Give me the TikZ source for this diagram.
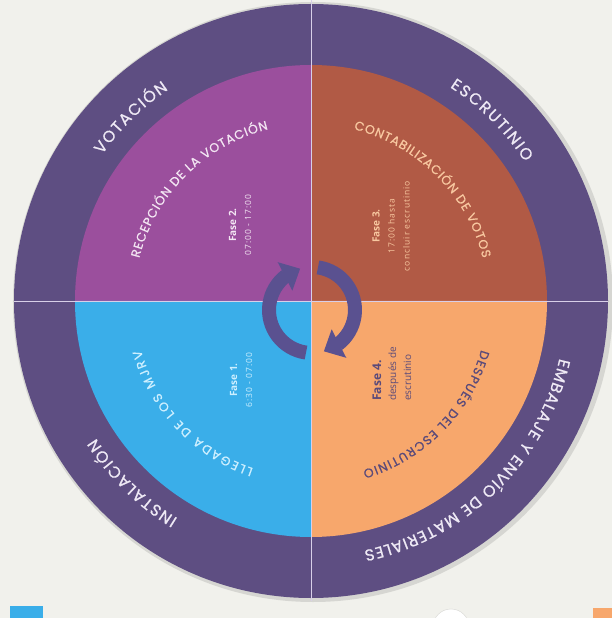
\documentclass[tikz,border=0pt]{standalone}
\usepackage{fontspec}
\setmainfont{Open Sans}
\newfontfamily\capsFont{Poppins}[FakeBold=0.8]
\newfontfamily\faseFont{Open Sans}
\usetikzlibrary{arrows.meta,bending,decorations.text}
\definecolor{pageColor}{HTML}{F1F1EC}
\definecolor{shadowColor}{HTML}{D6D6D2}
\definecolor{ringColor}{HTML}{5E4E82}
\definecolor{ringText}{HTML}{EEE9F5}
\definecolor{lineColor}{HTML}{D8CFE8}
\definecolor{cycleColor}{HTML}{5A5190}
\definecolor{votaColor}{HTML}{9B4F9D}
\definecolor{votaText}{HTML}{F3E6F3}
\definecolor{escruColor}{HTML}{B15A45}
\definecolor{escruText}{HTML}{F8C8A0}
\definecolor{instaColor}{HTML}{3AAEE9}
\definecolor{instaText}{HTML}{CDEFFF}
\definecolor{embaColor}{HTML}{F7A76C}
\definecolor{embaText}{HTML}{5A4A7A}
\tikzset{
  ring label/.style={decorate,decoration={text along path,text align={fit to path},
      text={|\capsFont\fontsize{16}{16}\selectfont\color{ringText}|#1}}},
  phase label/.style 2 args={decorate,decoration={text along path,text align={fit to path},
      text={|\capsFont\fontsize{12.5}{12.5}\selectfont\color{#1}|#2}}},
  fase/.style={rotate=90,align=center,inner sep=0pt,
      font=\faseFont\fontsize{10}{15}\selectfont},
  cycle arrow/.style={cycleColor,line width=14pt,-{Triangle[length=17pt,width=31pt]}}
}
\newcommand{\timeFont}{\addfontfeatures{LetterSpace=12}\fontsize{8.5}{15}\selectfont}

\begin{document}
\begin{tikzpicture}[x=1pt,y=1pt]
  \useasboundingbox (-311,-317) rectangle (301,301);
  \fill[pageColor] (-311,-317) rectangle (301,301);
  \fill[instaColor] (-301,-305) rectangle (-268,-317);
  \fill[embaColor] (282,-307) rectangle (301,-317);
  \draw[shadowColor,fill=white] (140,-326) circle[radius=18pt];

  % disc
  \fill[shadowColor] (2,-1) circle[radius=300pt];
  \fill[ringColor] (0,0) circle[radius=297pt];

  \fill[votaColor] (0,0) -- (90:236pt) arc[start angle=90,end angle=180,radius=236pt] -- cycle;
  \fill[escruColor] (0,0) -- (0:236pt) arc[start angle=0,end angle=90,radius=236pt] -- cycle;
  \fill[instaColor] (0,0) -- (180:236pt) arc[start angle=180,end angle=270,radius=236pt] -- cycle;
  \fill[embaColor] (0,0) -- (270:236pt) arc[start angle=270,end angle=360,radius=236pt] -- cycle;

  \draw[lineColor,line width=0.8pt] (0,301) -- (0,-300);
  \draw[lineColor,line width=0.8pt] (-297,0) -- (297,0);

  % outer ring
  \path[ring label={VOTACIÓN}] (145:255pt) arc[start angle=145,end angle=124,radius=255pt];
  \path[ring label={ESCRUTINIO}] (57:255pt) arc[start angle=57,end angle=33,radius=255pt];
  \path[ring label={INSTALACIÓN}] (238.5:255pt) arc[start angle=238.5,end angle=212.5,radius=255pt];
  \path[ring label={EMBALAJE Y ENVÍO DE MATERIALES}] (-13:255pt) arc[start angle=-13,end angle=-78,radius=255pt];

  % phases
  \path[phase label={votaText}{RECEPCIÓN DE LA VOTACIÓN}] (166:177pt) arc[start angle=166,end angle=104,radius=177pt];
  \path[phase label={escruText}{CONTABILIZACIÓN DE VOTOS}] (76:177pt) arc[start angle=76,end angle=14,radius=177pt];
  \path[phase label={instaText}{LLEGADA DE LOS MJRV}] (251:177pt) arc[start angle=251,end angle=196,radius=177pt];
  \path[phase label={embaText}{DESPUÉS DEL ESCRUTINIO}] (-16:177pt) arc[start angle=-16,end angle=-73,radius=177pt];

  \node[fase,text=votaText] (fase2) at (-71,76) {{\bfseries Fase 2.}\\{\timeFont 07:00 - 17:00}};
  \node[fase,text=escruText] (fase3) at (80,75) {{\bfseries Fase 3.}\\{\timeFont 17:00 hasta}\\{\timeFont concluir escrutinio}};
  \node[fase,text=instaText] (fase1) at (-70,-79) {{\bfseries Fase 1.}\\{\timeFont 6:30 - 07:00}};
  \node[fase,text=embaText,align=left,font=\faseFont\fontsize{12}{15}\selectfont] (fase4) at (81,-73)
    {{\bfseries Fase 4.}\\{\fontsize{10}{14}\selectfont después de}\\{\fontsize{10}{14}\selectfont escrutinio}};

  % cycle
  \draw[cycle arrow] (1,-9) ++(262:43pt) arc[start angle=262,end angle=106,radius=43pt];
  \draw[cycle arrow] (1,-9) ++(82:43pt) arc[start angle=82,end angle=-74,radius=43pt];
\end{tikzpicture}
\end{document}
